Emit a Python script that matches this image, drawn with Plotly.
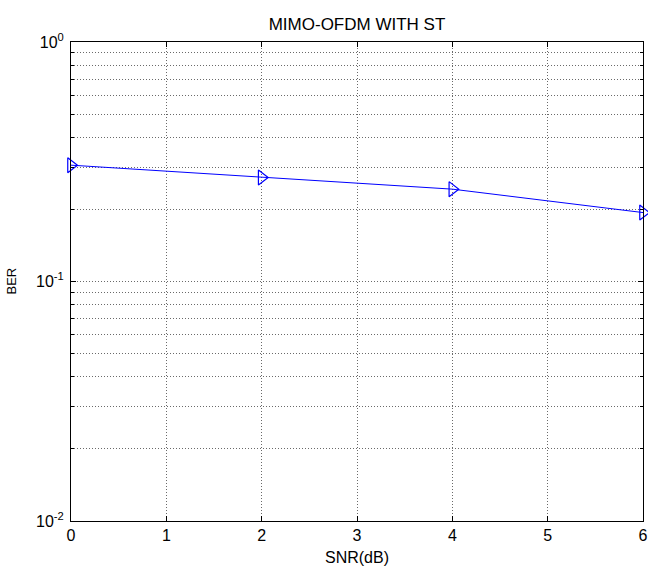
import plotly.graph_objects as go

snr_db = [0, 2, 4, 6]
ber = [0.306, 0.272, 0.243, 0.194]

x_ticks = [0, 1, 2, 3, 4, 5, 6]
y_ticks = [0.01, 0.1, 1]
y_ticktext = ["10<sup>-2</sup>", "10<sup>-1</sup>", "10<sup>0</sup>"]
y_minor = [0.02, 0.03, 0.04, 0.05, 0.06, 0.07, 0.08, 0.09,
           0.2, 0.3, 0.4, 0.5, 0.6, 0.7, 0.8, 0.9]

font_family = "Liberation Sans, Arial, sans-serif"
grid_color = "#6a6a6a"
grid_dash = "1px,2px"

fig = go.Figure()
fig.add_trace(go.Scatter(
    x=snr_db, y=ber, mode="lines+markers",
    line=dict(color="#0000ff", width=1),
    marker=dict(symbol="triangle-right-open", size=13, color="#0000ff",
                line=dict(width=1.2, color="#0000ff")),
    cliponaxis=False, showlegend=False,
))

fig.update_layout(
    width=648, height=572,
    margin=dict(l=71, r=5, t=42, b=51, autoexpand=False),
    paper_bgcolor="white", plot_bgcolor="white",
    font=dict(family=font_family, size=16, color="black"),
    title=dict(text="MIMO-OFDM WITH ST", x=0.5, xref="paper",
               y=1 - 24 / 572, yref="container", yanchor="middle",
               font=dict(size=17, color="black")),
    annotations=[
        dict(text="SNR(dB)", xref="paper", yref="paper", x=0.5, y=0,
             yshift=-36, showarrow=False, yanchor="middle",
             font=dict(size=16)),
        dict(text="BER", xref="paper", yref="paper", x=0, y=0.5,
             xshift=-60, showarrow=False, textangle=-90, xanchor="center",
             font=dict(size=13)),
    ],
)

fig.update_xaxes(
    range=[0, 6], tickmode="array", tickvals=x_ticks, automargin=False,
    showline=True, linecolor="black", linewidth=1, mirror="allticks",
    ticks="inside", ticklen=5, tickcolor="black",
    showgrid=True, gridcolor=grid_color, griddash=grid_dash, gridwidth=1,
    zeroline=False, tickfont=dict(size=16),
)
fig.update_yaxes(
    type="log", range=[-2, 0], tickmode="array", tickvals=y_ticks,
    ticktext=y_ticktext, automargin=False,
    showline=True, linecolor="black", linewidth=1, mirror="allticks",
    ticks="inside", ticklen=5, tickcolor="black",
    showgrid=True, gridcolor=grid_color, griddash=grid_dash, gridwidth=1,
    zeroline=False, tickfont=dict(size=16), ticklabelstandoff=3,
    minor=dict(tickmode="array", tickvals=y_minor, ticks="inside",
               ticklen=3, tickcolor="black", showgrid=True,
               gridcolor=grid_color, griddash=grid_dash, gridwidth=1),
)

fig.write_html("out.html",
               config={"displayModeBar": False},
               post_script="document.body.style.margin='0';"
                           "document.body.style.overflow='hidden';")
